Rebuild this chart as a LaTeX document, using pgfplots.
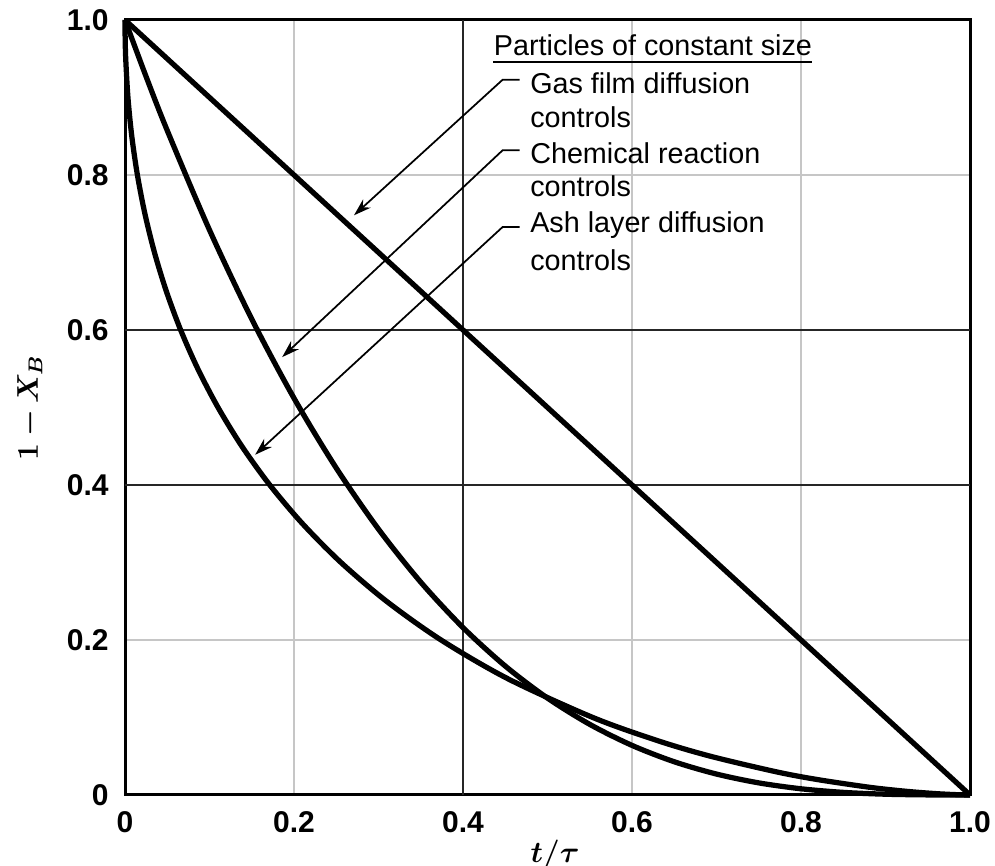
\documentclass[border=0pt]{standalone}
\usepackage{fontspec}
\setmainfont{Liberation Sans}
\usepackage{amsmath}
\usepackage{bm}
\usepackage{pgfplots}
\pgfplotsset{compat=1.18}
\usetikzlibrary{arrows.meta}

% Conversion curves for the shrinking-core model, particles of constant size
% Gas film diffusion: straight line
\pgfplotstableread{
t    y
0    1
1    0
}\gasfilm
% Chemical reaction control
\pgfplotstableread{
t      y
0      1
0.025  0.926859
0.05   0.857375
0.1    0.729
0.15   0.614125
0.2    0.512
0.25   0.421875
0.3    0.343
0.35   0.274625
0.4    0.216
0.45   0.166375
0.5    0.125
0.55   0.091125
0.6    0.064
0.65   0.042875
0.7    0.027
0.75   0.015625
0.8    0.008
0.85   0.003375
0.9    0.001
0.95   0.000125
1      0
}\chemreact
% Ash layer diffusion control
\pgfplotstableread{
t         y
0         1
0.000134  0.98
0.000854  0.95
0.003489  0.9
0.008032  0.85
0.014677  0.8
0.023554  0.75
0.034879  0.7
0.048895  0.65
0.065863  0.6
0.086130  0.55
0.110118  0.5
0.138279  0.45
0.171349  0.4
0.210107  0.35
0.255579  0.3
0.309449  0.25
0.374015  0.2
0.453068  0.15
0.553670  0.1
0.630567  0.07
0.692837  0.05
0.770353  0.03
0.818957  0.02
0.880752  0.01
0.922279  0.005
0.956378  0.002
0.982101  0.0005
1         0
}\ashlayer

\tikzset{lbl/.style={anchor=west, font=\fontsize{11.5}{13}\selectfont, inner sep=0pt},
         lead/.style={line width=0.7pt, -{Stealth[length=7pt,width=4.5pt]}}}

\begin{document}
\begin{tikzpicture}
\begin{axis}[
  scale only axis,
  width=338pt, height=310pt,
  xmin=0, xmax=1, ymin=0, ymax=1,
  xtick={0,0.2,0.4,0.6,0.8,1.0},
  ytick={0,0.2,0.4,0.6,0.8,1.0},
  xticklabels={0,0.2,0.4,0.6,0.8,1.0},
  yticklabels={0,0.2,0.4,0.6,0.8,1.0},
  major tick length=0pt,
  tick label style={font=\fontsize{12}{14}\selectfont\bfseries},
  xticklabel style={yshift=-3pt},
  yticklabel style={xshift=-3pt},
  /pgf/number format/assume math mode=true,
  axis line style={line width=1.2pt},
  grid=major,
  grid style={gray!45, line width=0.7pt},
  extra x ticks={0.4},
  extra x tick labels={},
  extra y ticks={0.4,0.6},
  extra y tick labels={},
  extra tick style={grid style={black!85, line width=0.9pt}},
  xlabel={$\bm{t/\tau}$},
  ylabel={$\bm{1-X_B}$},
  xlabel style={font=\fontsize{13}{15}\selectfont, yshift=4pt, xshift=3pt},
  ylabel style={font=\fontsize{12}{14}\selectfont, yshift=3pt},
  clip=false,
]
\addplot[black, line width=2.1pt] table[x=t,y=y] {\gasfilm};
\addplot[black, line width=2.1pt, smooth] table[x=t,y=y] {\chemreact};
\addplot[black, line width=2.1pt, smooth] table[x=t,y=y] {\ashlayer};

% legend heading and labels
\node[lbl] (head) at (axis cs:0.436,0.968) {Particles of constant size};
\draw[line width=0.9pt] ([yshift=-2.5pt]head.south west) -- ([yshift=-2.5pt]head.south east);
\node[lbl] at (axis cs:0.479,0.919) {Gas film diffusion};
\node[lbl] at (axis cs:0.479,0.875) {controls};
\node[lbl] at (axis cs:0.479,0.828) {Chemical reaction};
\node[lbl] at (axis cs:0.479,0.785) {controls};
\node[lbl] at (axis cs:0.479,0.735) {Ash layer diffusion};
\node[lbl] at (axis cs:0.479,0.690) {controls};

% leader arrows to each curve
\draw[lead] (axis cs:0.467,0.923) -- (axis cs:0.447,0.923) -- (axis cs:0.271,0.748);
\draw[lead] (axis cs:0.467,0.832) -- (axis cs:0.447,0.832) -- (axis cs:0.186,0.565);
\draw[lead] (axis cs:0.467,0.733) -- (axis cs:0.447,0.733) -- (axis cs:0.154,0.439);
\end{axis}
\pgfresetboundingbox
\useasboundingbox ([xshift=-50pt,yshift=-28.4pt]current axis.south west)
  rectangle ([xshift=10pt,yshift=8pt]current axis.north east);
\end{tikzpicture}
\end{document}
